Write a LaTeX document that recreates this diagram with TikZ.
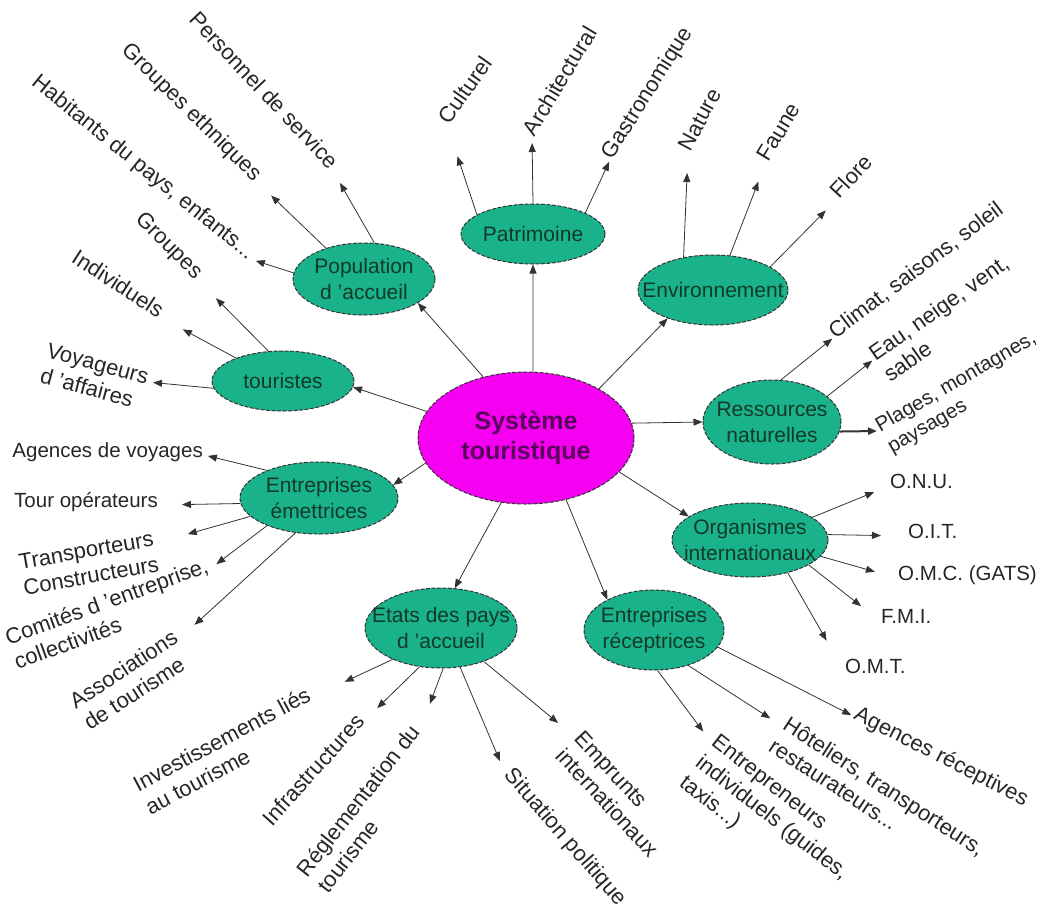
\documentclass[tikz,border=0pt]{standalone}
\usepackage{fontspec}
\setmainfont{Liberation Sans}
\usepackage{tikz}
\usepackage{xcolor}
\usetikzlibrary{shapes.geometric, arrows.meta}

\definecolor{sysmag}{RGB}{245,0,240}
\definecolor{systext}{RGB}{88,0,92}
\definecolor{topicfill}{RGB}{26,178,138}
\definecolor{topictext}{RGB}{18,58,40}

% lines of a leaf, baseline on the first line
\newcommand{\leaflines}[1]{\vtop{\halign{##\hfil\cr#1\crcr}}}

\begin{document}
\begin{tikzpicture}[x=1pt, y=-1pt,
  hub/.style={ellipse, draw=black!80, line width=1pt, dash pattern=on 4pt off 1.5pt, fill=sysmag, text=systext, font=\bfseries\fontsize{25}{30}\selectfont, align=center, inner sep=-40pt},
  topic/.style={ellipse, draw=black!80, line width=1pt, dash pattern=on 4pt off 1.5pt, fill=topicfill, text=topictext, font=\fontsize{21}{26}\selectfont, align=center, inner sep=-40pt},
  leaf/.style={font=\fontsize{22}{26}\selectfont, text=black!85, inner sep=1pt},
  flatleaf/.style={leaf, font=\fontsize{20.5}{24}\selectfont},
  arr/.style={-{Triangle[length=9pt,width=7pt]}, line width=0.8pt, draw=black!80}]
\useasboundingbox (0,0) rectangle (1048,911);

\node[hub, minimum width=216, minimum height=132] (sys) at (526,438) {Système\\touristique};

\node[topic, minimum width=144, minimum height=60] (pat) at (533,234) {Patrimoine};
\node[topic, minimum width=142, minimum height=72] (pop) at (364,279) {Population\\d 'accueil};
\node[topic, minimum width=142, minimum height=60] (tour) at (283,381) {touristes};
\node[topic, minimum width=150, minimum height=70] (env) at (713,290) {Environnement};
\node[topic, minimum width=138, minimum height=84] (res) at (772,422) {Ressources\\naturelles};
\node[topic, minimum width=158, minimum height=72] (emet) at (319,498) {Entreprises\\émettrices};
\node[topic, minimum width=156, minimum height=74] (org) at (750,540) {Organismes\\internationaux};
\node[topic, minimum width=152, minimum height=80] (etat) at (441,628) {Etats des pays\\d 'accueil};
\node[topic, minimum width=140, minimum height=80] (recep) at (654,630) {Entreprises\\réceptrices};

\draw[arr] (sys.84) -- (pat.-90);
\draw[arr] (sys.125) -- (pop.-24);
\draw[arr] (sys.165) -- (tour.-5);
\draw[arr] (sys.34) -- (env.212);
\draw[arr] (sys.8) -- (res.180);
\draw[arr] (sys.-20) -- (org.159);
\draw[arr] (sys.-57) -- (recep.147);
\draw[arr] (sys.249) -- (etat.71);
\draw[arr] (sys.194) -- (emet.10);

% Patrimoine
\node[leaf, rotate=55, anchor=mid west] (cult) at (447,125) {Culturel};
\node[leaf, rotate=59, anchor=mid west] (arch) at (532,137) {Architectural};
\node[leaf, rotate=58, anchor=mid west] (gast) at (610,160) {Gastronomique};
\draw[arr, shorten >=33pt] (pat.161) -- (cult.mid west);
\draw[arr, shorten >=6pt] (pat.90) -- (arch.mid west);
\draw[arr, shorten >=2pt] (pat.22) -- (gast.mid west);

% Environnement
\node[leaf, rotate=62, anchor=mid west] (nat) at (688,152) {Nature};
\node[leaf, rotate=59, anchor=mid west] (faune) at (766,162) {Faune};
\node[leaf, rotate=47, anchor=mid west] (flore) at (837,199) {Flore};
\draw[arr, shorten >=21pt] (env.132) -- (nat.mid west);
\draw[arr, shorten >=21pt] (env.64) -- (faune.mid west);
\draw[arr, shorten >=16pt] (env.22) -- (flore.mid west);

% Ressources naturelles
\node[leaf, rotate=37, anchor=mid west] (clim) at (833,338) {Climat, saisons, soleil};
\node[leaf, rotate=35, anchor=mid west] (eau) at (873,360) {\leaflines{Eau, neige, vent,\cr sable}};
\node[flatleaf, rotate=30, anchor=mid west] (plag) at (878,431) {\leaflines{Plages, montagnes,\cr paysages}};
\draw[arr, shorten >=1pt] (res.78) -- (clim.mid west);
\draw[arr, shorten >=1pt] (res.25) -- (eau.mid west);
\draw[arr, line width=2pt, shorten >=1pt] (res.-8) -- (plag.mid west);

% Organismes internationaux
\node[flatleaf, anchor=mid west] (onu) at (889,486) {O.N.U.};
\node[flatleaf, anchor=mid west] (oit) at (907,536) {O.I.T.};
\node[flatleaf, anchor=mid west] (omc) at (897,578) {O.M.C. (GATS)};
\node[flatleaf, anchor=mid west] (fmi) at (880,621) {F.M.I.};
\node[flatleaf, anchor=mid west] (omt) at (844,671) {O.M.T.};
\draw[arr, shorten >=16pt] (org.20) -- (onu.mid west);
\draw[arr, shorten >=26pt] (org.4) -- (oit.mid west);
\draw[arr, shorten >=23pt] (org.-13) -- (omc.mid west);
\draw[arr, shorten >=24pt] (org.-23) -- (fmi.mid west);
\draw[arr, shorten >=35pt] (org.-41) -- (omt.mid west);

% Entreprises receptrices
\node[leaf, rotate=-27, anchor=mid west] (agrec) at (853,716) {Agences réceptives};
\node[leaf, rotate=-33, anchor=mid west] (hotel) at (782,726) {\leaflines{Hôteliers, transporteurs,\cr restaurateurs...}};
\node[leaf, rotate=-38, anchor=mid west] (entr) at (711,742) {\leaflines{Entrepreneurs\cr individuels (guides,\cr taxis...)}};
\draw[arr, shorten >=2pt] (recep.-15) -- (agrec.mid west);
\draw[arr, shorten >=14pt] (recep.-46) -- (hotel.mid west);
\draw[arr, shorten >=13pt] (recep.-85) -- (entr.mid west);

% Etats des pays d'accueil
\node[leaf, rotate=-49, anchor=mid west] (sit) at (505,773) {Situation politique};
\node[leaf, rotate=-47, anchor=mid west] (emp) at (575,737) {\leaflines{Emprunts\cr internationaux}};
\node[leaf, rotate=52, anchor=mid east] (regl) at (420,730) {\leaflines{Réglementation du\cr tourisme}};
\node[leaf, rotate=48, anchor=mid east] (infra) at (365,720) {Infrastructures};
\node[leaf, rotate=28, anchor=mid east] (inv) at (312,697) {\leaflines{Investissements liés\cr au tourisme}};
\draw[arr, shorten >=13pt] (etat.-64) -- (sit.mid west);
\draw[arr, shorten >=22pt] (etat.-38) -- (emp.mid west);
\draw[arr, shorten >=28pt] (etat.-87) -- (regl.mid east);
\draw[arr, shorten >=17pt] (etat.241) -- (infra.mid east);
\draw[arr, shorten >=36pt] (etat.213) -- (inv.mid east);

% Entreprises emettrices
\node[flatleaf, anchor=mid east] (agvoy) at (204,455) {Agences de voyages};
\node[flatleaf, anchor=mid east] (tourop) at (159,505) {Tour opérateurs};
\node[leaf, rotate=10, anchor=mid east] (transp) at (156,543) {\leaflines{Transporteurs\cr Constructeurs}};
\node[leaf, rotate=20, anchor=mid east] (comit) at (210,569) {\leaflines{Comités d 'entreprise,\cr collectivités}};
\node[leaf, rotate=33, anchor=mid east] (assoc) at (179,639) {\leaflines{Associations\cr de tourisme}};
\draw[arr, shorten >=4pt] (emet.152) -- (agvoy.mid east);
\draw[arr, shorten >=23pt] (emet.184) -- (tourop.mid east);
\draw[arr, shorten >=33pt] (emet.195) -- (transp.mid east);
\draw[arr, shorten >=8pt] (emet.208) -- (comit.mid east);
\draw[arr, shorten >=21pt] (emet.236) -- (assoc.mid east);

% touristes
\node[leaf, rotate=-15, anchor=mid east] (voyag) at (148,382) {\leaflines{Voyageurs\cr d 'affaires}};
\node[leaf, rotate=-33, anchor=mid east] (indiv) at (160,317) {Individuels};
\node[leaf, rotate=-45, anchor=mid east] (group) at (197,279) {Groupes};
\draw[arr, shorten >=5pt] (tour.186) -- (voyag.mid east);
\draw[arr, shorten >=26pt] (tour.154) -- (indiv.mid east);
\draw[arr, shorten >=27pt] (tour.116) -- (group.mid east);

% Population d'accueil
\node[leaf, rotate=-39, anchor=mid east] (habit) at (250,259) {Habitants du pays, enfants...};
\node[leaf, rotate=-44.5, anchor=mid east] (ethn) at (256,181) {Groupes ethniques};
\node[leaf, rotate=-46.6, anchor=mid east] (perso) at (332,169) {Personnel de service};
\draw[arr, shorten >=6pt] (pop.175) -- (habit.mid east);
\draw[arr, shorten >=21pt] (pop.141) -- (ethn.mid east);
\draw[arr, shorten >=16pt] (pop.74) -- (perso.mid east);
\end{tikzpicture}
\end{document}
